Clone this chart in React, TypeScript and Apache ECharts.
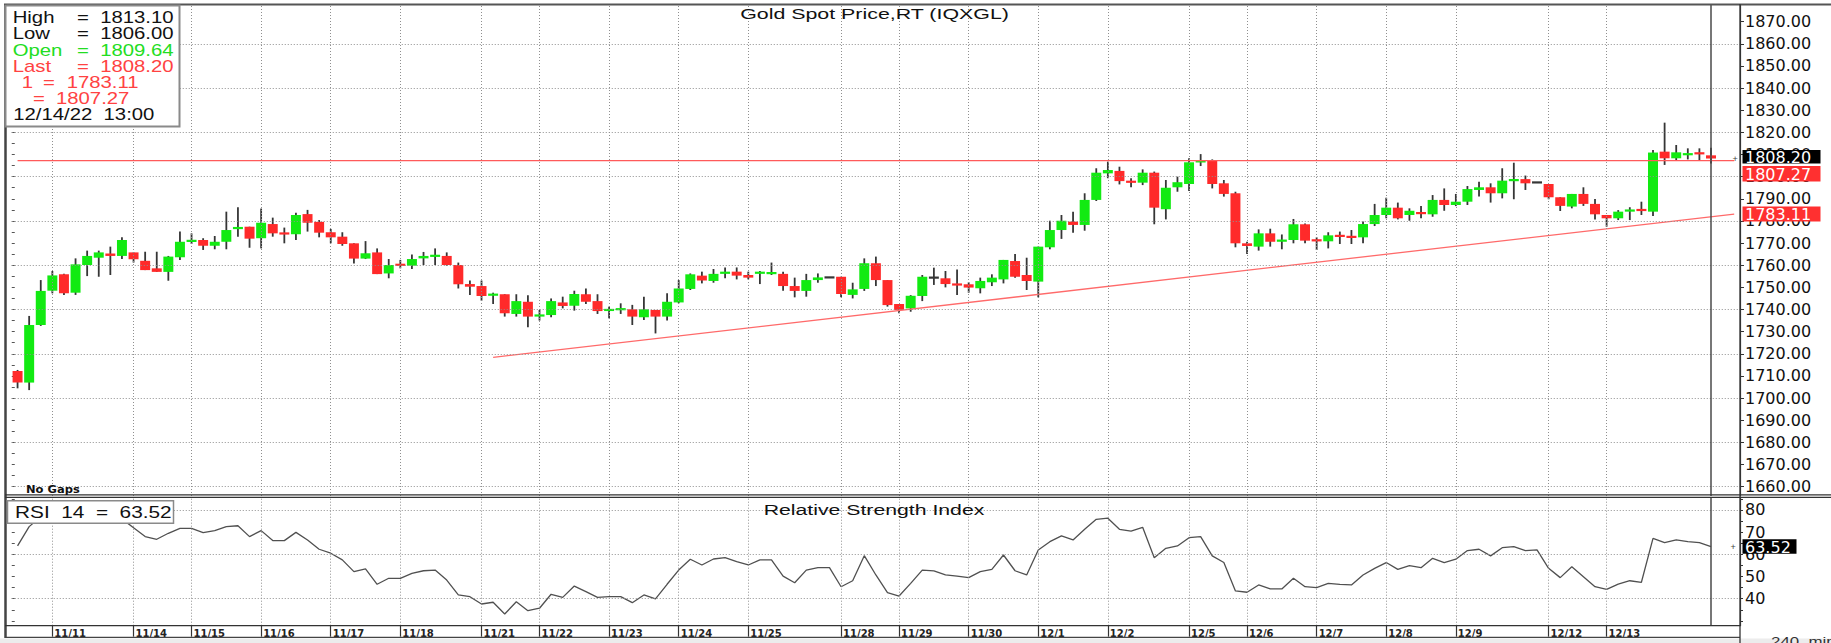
import React, { useEffect, useRef } from 'react';
import * as echarts from 'echarts';

// ---------------- data ----------------
const dayNames = ['11/10', '11/11', '11/14', '11/15', '11/16', '11/17', '11/18', '11/21', '11/22', '11/23', '11/24', '11/25',
  '11/28', '11/29', '11/30', '12/1', '12/2', '12/5', '12/6', '12/7', '12/8', '12/9', '12/12', '12/13'];
const barsPerDay = [3, 7, 5, 6, 6, 6, 7, 5, 6, 6, 6, 8, 5, 6, 6, 6, 7, 5, 6, 6, 6, 8, 5, 10];
const padBars = 2;

const opens = [
  1712.2, 1707.0, 1733.0, 1748.5, 1755.9, 1747.6, 1760.1, 1763.4, 1765.3, 1764.2,
  1765.8, 1762.0, 1758.6, 1757.0, 1763.6, 1770.6, 1771.4, 1768.8, 1770.6, 1776.5,
  1777.4, 1772.2, 1778.6, 1774.7, 1774.0, 1783.1, 1779.6, 1774.9, 1772.9, 1769.9,
  1763.0, 1765.8, 1756.3, 1760.6, 1759.8, 1763.1, 1763.9, 1764.2, 1760.1, 1751.5,
  1750.6, 1746.4, 1746.9, 1738.0, 1743.5, 1736.8, 1737.5, 1743.2, 1741.7, 1746.9,
  1743.8, 1739.5, 1739.8, 1740.1, 1736.5, 1739.8, 1736.8, 1743.2, 1749.3, 1755.3,
  1752.9, 1756.1, 1757.1, 1755.6, 1756.3, 1756.1, 1756.1, 1750.6, 1748.4, 1753.3,
  1754.5, 1754.8, 1746.6, 1749.3, 1760.9, 1753.3, 1742.5, 1740.5, 1746.1, 1754.4,
  1754.1, 1751.7, 1751.4, 1749.6, 1752.3, 1753.6, 1761.9, 1755.6, 1752.6, 1768.1,
  1775.9, 1779.7, 1778.2, 1789.5, 1801.5, 1802.6, 1798.0, 1797.3, 1801.8, 1785.3,
  1795.2, 1796.7, 1806.6, 1807.5, 1797.0, 1792.5, 1769.9, 1768.4, 1774.4, 1770.8,
  1771.4, 1778.5, 1771.7, 1770.8, 1773.6, 1773.2, 1772.6, 1778.6, 1782.7, 1786.0,
  1782.7, 1783.9, 1783.0, 1789.5, 1787.2, 1788.7, 1794.0, 1795.2, 1792.5, 1798.1,
  1798.9, 1797.4, 1796.7, 1790.7, 1786.5, 1792.2, 1787.7, 1782.7, 1781.2, 1784.2,
  1785.4, 1784.2, 1811.3, 1808.3, 1809.8, 1811.0, 1809.64,
];
const closes = [
  1707.0, 1733.0, 1748.4, 1755.4, 1747.3, 1760.4, 1764.2, 1765.8, 1764.2, 1771.4,
  1762.7, 1757.8, 1757.0, 1763.9, 1770.6, 1771.4, 1768.8, 1770.6, 1775.9, 1777.1,
  1772.0, 1779.2, 1774.4, 1774.0, 1782.7, 1779.2, 1774.7, 1772.6, 1769.6, 1763.0,
  1765.4, 1756.0, 1760.1, 1759.8, 1762.8, 1764.2, 1764.6, 1760.1, 1751.4, 1750.3,
  1746.1, 1747.0, 1738.3, 1743.8, 1736.8, 1737.8, 1743.8, 1741.6, 1747.0, 1743.5,
  1739.3, 1740.1, 1740.5, 1736.8, 1740.1, 1736.8, 1743.5, 1749.5, 1755.9, 1753.1,
  1756.1, 1757.1, 1755.3, 1754.4, 1756.9, 1756.8, 1750.6, 1748.4, 1753.3, 1754.5,
  1754.5, 1747.0, 1749.1, 1760.9, 1753.3, 1742.0, 1739.8, 1746.2, 1754.8, 1754.4,
  1751.5, 1750.9, 1749.9, 1752.9, 1754.4, 1762.4, 1754.8, 1752.9, 1768.4, 1775.9,
  1780.1, 1778.2, 1789.5, 1801.8, 1803.0, 1798.0, 1797.4, 1801.8, 1786.0, 1795.0,
  1797.5, 1806.5, 1807.2, 1796.7, 1792.2, 1769.9, 1768.7, 1774.4, 1770.6, 1771.4,
  1778.5, 1771.1, 1770.8, 1773.5, 1772.9, 1772.4, 1778.6, 1782.7, 1786.0, 1781.2,
  1784.6, 1783.2, 1789.5, 1787.2, 1788.7, 1794.4, 1795.2, 1792.5, 1798.2, 1798.8,
  1797.0, 1797.4, 1790.7, 1786.8, 1792.2, 1787.7, 1783.0, 1781.2, 1784.2, 1785.2,
  1784.5, 1810.9, 1808.3, 1811.0, 1810.5, 1810.1, 1808.20,
];
const lows = [
  1704.4, 1703.6, 1732.6, 1747.3, 1746.6, 1746.6, 1755.1, 1754.8, 1755.6, 1762.8,
  1761.2, 1757.8, 1757.0, 1753.0, 1762.4, 1769.6, 1766.9, 1767.2, 1767.2, 1772.9,
  1767.9, 1767.6, 1772.9, 1769.9, 1771.4, 1775.2, 1772.6, 1769.9, 1768.8, 1760.8,
  1762.8, 1756.0, 1754.1, 1758.6, 1758.3, 1760.1, 1760.1, 1759.8, 1749.5, 1746.6,
  1744.0, 1742.5, 1736.8, 1736.8, 1732.0, 1735.0, 1736.5, 1740.5, 1739.5, 1742.5,
  1738.0, 1736.0, 1738.0, 1733.0, 1735.3, 1729.2, 1735.0, 1742.8, 1748.8, 1751.8,
  1752.1, 1754.1, 1753.6, 1753.6, 1751.5, 1755.6, 1748.5, 1745.5, 1745.8, 1752.1,
  1754.4, 1745.5, 1745.0, 1748.4, 1750.6, 1741.3, 1738.3, 1739.0, 1743.8, 1751.1,
  1750.0, 1746.5, 1747.6, 1747.3, 1750.6, 1751.8, 1754.4, 1748.8, 1745.5, 1767.2,
  1771.9, 1774.7, 1775.6, 1789.0, 1799.3, 1796.5, 1795.2, 1796.2, 1778.5, 1780.7,
  1793.2, 1793.5, 1804.8, 1794.7, 1791.0, 1768.1, 1765.1, 1766.6, 1768.4, 1767.2,
  1769.9, 1769.9, 1766.9, 1767.6, 1769.6, 1769.6, 1769.9, 1777.7, 1781.2, 1780.7,
  1780.1, 1781.2, 1781.9, 1784.6, 1786.7, 1787.2, 1791.0, 1788.3, 1790.2, 1789.8,
  1794.0, 1797.3, 1789.8, 1784.5, 1785.7, 1786.8, 1780.7, 1777.4, 1780.4, 1780.4,
  1782.7, 1782.2, 1805.3, 1807.5, 1807.8, 1807.5, 1806.00,
];
const highs = [
  1712.7, 1737.1, 1753.3, 1757.4, 1756.2, 1763.1, 1766.6, 1766.6, 1768.4, 1772.6,
  1765.8, 1766.1, 1766.1, 1764.2, 1775.2, 1774.4, 1772.2, 1773.2, 1784.2, 1786.2,
  1777.4, 1785.6, 1781.5, 1777.0, 1783.7, 1785.0, 1780.4, 1776.4, 1774.9, 1769.9,
  1770.9, 1767.6, 1762.8, 1762.4, 1764.9, 1766.0, 1767.6, 1765.8, 1761.2, 1753.1,
  1753.1, 1747.6, 1746.9, 1746.9, 1746.4, 1739.8, 1745.0, 1745.8, 1748.5, 1749.5,
  1746.9, 1741.3, 1742.8, 1742.1, 1745.8, 1739.8, 1747.3, 1753.3, 1756.3, 1757.1,
  1758.3, 1759.0, 1759.0, 1757.1, 1757.4, 1761.2, 1757.1, 1754.4, 1756.1, 1756.3,
  1754.6, 1754.8, 1752.1, 1763.1, 1763.9, 1753.3, 1742.5, 1746.5, 1755.6, 1758.9,
  1757.4, 1758.1, 1752.3, 1754.4, 1755.9, 1762.4, 1765.1, 1763.4, 1768.4, 1780.1,
  1782.7, 1784.2, 1792.5, 1803.8, 1806.8, 1804.5, 1799.3, 1803.3, 1802.3, 1798.5,
  1800.0, 1808.3, 1810.2, 1807.8, 1798.5, 1793.2, 1770.6, 1776.2, 1776.5, 1773.9,
  1780.9, 1778.9, 1772.6, 1774.9, 1775.2, 1775.9, 1779.7, 1787.7, 1790.5, 1788.3,
  1785.7, 1786.7, 1791.7, 1794.7, 1792.2, 1795.8, 1797.7, 1797.0, 1803.8, 1806.3,
  1800.5, 1797.6, 1796.7, 1790.7, 1792.2, 1795.2, 1789.9, 1782.7, 1784.9, 1786.2,
  1788.7, 1812.0, 1824.4, 1814.3, 1812.8, 1812.8, 1813.10,
];
const rsi = [
  63.8, 72.5, 77, 79, 76, 78, 80, 80.5, 79, 76,
  72, 68.0, 66.8, 69.5, 71.7, 71.7, 69.8, 70.7, 72.5, 72.9,
  68.0, 70.7, 66.2, 66.2, 69.9, 66.5, 62.3, 60.5, 57.5, 52.2,
  53.4, 46.5, 49.2, 49.2, 51.4, 52.6, 52.9, 48.4, 41.7, 40.9,
  37.6, 38.4, 33.1, 38.6, 34.6, 35.7, 42.0, 40.6, 45.7, 43.2,
  40.6, 40.9, 40.9, 38.2, 41.7, 39.9, 46.5, 52.9, 57.8, 55.2,
  57.9, 58.5, 56.7, 55.2, 57.5, 57.5, 50.2, 47.2, 52.9, 54.0,
  54.0, 45.4, 48.1, 59.4, 50.7, 42.7, 41.2, 46.9, 52.9, 52.5,
  50.7, 50.2, 49.5, 52.2, 53.2, 59.7, 52.6, 50.7, 62.0, 65.7,
  68.3, 66.5, 71.3, 75.8, 76.3, 71.3, 70.5, 72.2, 58.5, 62.7,
  63.8, 67.5, 68.0, 59.3, 56.3, 43.5, 42.9, 46.2, 44.4, 44.4,
  49.2, 45.4, 45.0, 46.9, 46.5, 46.2, 50.7, 53.7, 56.3, 53.2,
  54.9, 54.0, 58.2, 56.3, 57.8, 61.7, 62.3, 59.3, 63.0, 63.5,
  61.7, 62.0, 53.7, 49.5, 54.4, 49.9, 45.4, 44.2, 46.6, 48.1,
  47.4, 67.2, 65.3, 66.5, 65.7, 65.3, 63.52,
];

const priceLabels = [1660, 1670, 1680, 1690, 1700, 1710, 1720, 1730, 1740, 1750, 1760, 1770, 1780, 1790, 1800, 1810, 1820, 1830, 1840, 1850, 1860, 1870];
const priceGridValues = [1660, 1680, 1700, 1720, 1740, 1760, 1780, 1800, 1820, 1840, 1860];
const priceMinorTicks = [1660, 1665, 1670, 1675, 1680, 1685, 1690, 1695, 1700, 1705, 1710, 1715, 1720, 1725, 1730, 1735, 1740, 1745, 1750, 1755, 1760, 1765, 1770, 1775, 1780, 1785, 1790, 1795, 1800, 1805, 1810, 1815, 1820, 1825, 1830, 1835, 1840, 1845, 1850, 1855, 1860, 1865, 1870, 1875];
const rsiLabels = [40, 50, 60, 70, 80];
const rsiGridValues = [40, 60, 80];
const rsiMinorTicks = [30, 35, 40, 45, 50, 55, 60, 65, 70, 75, 80, 85];

const horizLevel = 1807.27;
const trendLine = [[41, 1718.4], [148, 1783.11]];
const lastPrice = 1808.2;
const lastRsi = 63.52;
const cursorIndex = 146;

// ---------------- layout ----------------
const W = 1831;
const H = 643;
const GRID_LEFT = 11.76;
const AXIS_X = 1740;
const P_MIN = 1655.77;
const P_MAX = 1877.54;
const R_MIN = 27.82;
const R_MAX = 85.41;

const GREEN = '#12ea12';
const RED = '#ff2a2a';
const WICK = '#363636';
const GRIDC = '#8f8f8f';
const TXT_GREEN = '#22dd22';
const TXT_RED = '#ff4242';
const AFONT = '"DejaVu Sans", sans-serif';
const SFONT = '"Liberation Sans", Arial, sans-serif';

export default function App() {
  const ref = useRef<HTMLDivElement>(null);

  useEffect(() => {
    const el = ref.current;
    if (!el) return;
    const chart = echarts.init(el, null, { renderer: 'svg' });

    const categories: string[] = [];
    const dayStarts: number[] = [];
    dayNames.forEach((d, di) => {
      if (di > 0) dayStarts.push(categories.length);
      for (let k = 0; k < barsPerDay[di]; k++) categories.push(`${d} #${k + 1}`);
    });
    for (let k = 0; k < padBars; k++) categories.push(`pad #${k + 1}`);
    const startSet = new Set(dayStarts);

    const candleData = opens.map((o, i) => [i, o, closes[i], lows[i], highs[i]]);
    const rsiData = rsi.map((v, i) => [i, v]);

    const dotted = { color: GRIDC, type: [1, 2] as any, width: 1 };

    const option: any = {
      animation: false,
      backgroundColor: '#ffffff',
      grid: [
        { left: GRID_LEFT, top: 5, width: AXIS_X - GRID_LEFT, height: 491, show: false, containLabel: false, outerBoundsMode: 'none' },
        { left: GRID_LEFT, top: 498, width: AXIS_X - GRID_LEFT, height: 127.7, show: false, containLabel: false, outerBoundsMode: 'none' },
      ],
      xAxis: [
        {
          type: 'category', gridIndex: 0, data: categories, boundaryGap: true,
          axisLine: { show: false }, axisTick: { show: false }, axisLabel: { show: false }, splitLine: { show: false },
        },
        {
          type: 'category', gridIndex: 1, data: categories, boundaryGap: true,
          axisLine: { show: false },
          axisTick: {
            show: true, alignWithLabel: true, length: 11,
            interval: (i: number) => startSet.has(i),
            lineStyle: { color: '#333', width: 1.2 },
          },
          axisLabel: {
            show: true, interval: (i: number) => startSet.has(i),
            formatter: (v: string) => v.split(' ')[0],
            align: 'left', margin: 3, padding: [0, 0, 0, 2],
            fontFamily: AFONT, fontWeight: 'bold', fontSize: 10, color: '#222',
            showMinLabel: true, showMaxLabel: true, hideOverlap: false,
          },
          splitLine: { show: false },
        },
      ],
      yAxis: [
        {
          type: 'value', gridIndex: 0, position: 'right', min: P_MIN, max: P_MAX,
          axisLine: { show: true, lineStyle: { color: '#333', width: 1.2 } },
          axisTick: { show: true, customValues: priceLabels, length: 4, lineStyle: { color: '#333' } },
          axisLabel: {
            show: true, customValues: priceLabels, formatter: (v: number) => v.toFixed(2),
            margin: 5, fontFamily: AFONT, fontSize: 16, color: '#111',
          },
          splitLine: { show: false },
        },
        {
          type: 'value', gridIndex: 0, position: 'left', min: P_MIN, max: P_MAX,
          axisLine: { show: false },
          axisTick: { show: true, inside: true, customValues: priceMinorTicks, length: 3, lineStyle: { color: '#555' } },
          axisLabel: { show: false }, splitLine: { show: false },
        },
        {
          type: 'value', gridIndex: 1, position: 'right', min: R_MIN, max: R_MAX,
          axisLine: { show: true, lineStyle: { color: '#333', width: 1.2 } },
          axisTick: { show: true, customValues: rsiMinorTicks, length: 3, lineStyle: { color: '#333' } },
          axisLabel: {
            show: true, customValues: rsiLabels, formatter: (v: number) => String(v),
            margin: 5, fontFamily: AFONT, fontSize: 16, color: '#111',
          },
          splitLine: { show: false },
        },
        {
          type: 'value', gridIndex: 1, position: 'left', min: R_MIN, max: R_MAX,
          axisLine: { show: false },
          axisTick: { show: true, inside: true, customValues: rsiMinorTicks, length: 3, lineStyle: { color: '#555' } },
          axisLabel: { show: false }, splitLine: { show: false },
        },
      ],
      series: [
        {
          name: 'level2', type: 'line', xAxisIndex: 0, yAxisIndex: 0,
          data: [[0, horizLevel], [148, horizLevel]],
          symbol: 'none', silent: true,
          lineStyle: { color: '#ff5a5a', width: 1.2 },
          markLine: {
            silent: true, symbol: ['none', 'none'], label: { show: false }, animation: false,
            lineStyle: dotted,
            data: [
              ...dayStarts.map((i) => ({ xAxis: i })),
              ...priceGridValues.map((v) => ({ yAxis: v })),
              { xAxis: cursorIndex, lineStyle: { color: '#4a4a4a', type: 'solid', width: 1.5 } },
            ],
          },
        },
        {
          name: 'trend1', type: 'line', xAxisIndex: 0, yAxisIndex: 0,
          data: trendLine, symbol: 'none', silent: true,
          lineStyle: { color: '#ff6a6a', width: 1.3 },
        },
        {
          name: 'Gold', type: 'custom', xAxisIndex: 0, yAxisIndex: 0,
          data: candleData, encode: { x: 0, y: [1, 2, 3, 4] }, clip: true,
          renderItem: (params: any, api: any) => {
            const i = api.value(0);
            const o = api.value(1), c = api.value(2), l = api.value(3), h = api.value(4);
            const pO = api.coord([i, o]);
            const pC = api.coord([i, c]);
            const pL = api.coord([i, l]);
            const pH = api.coord([i, h]);
            const band = api.size([1, 0])[0];
            const bw = band * 0.86;
            let top = Math.min(pO[1], pC[1]);
            let ht = Math.abs(pO[1] - pC[1]);
            if (ht < 2.2) { top = (pO[1] + pC[1]) / 2 - 1.1; ht = 2.2; }
            const fill = c > o ? GREEN : c < o ? RED : WICK;
            return {
              type: 'group',
              children: [
                { type: 'line', shape: { x1: pH[0], y1: pH[1], x2: pL[0], y2: pL[1] }, style: { stroke: WICK, lineWidth: 1.8 } },
                { type: 'rect', shape: { x: pO[0] - bw / 2, y: top, width: bw, height: ht }, style: { fill } },
              ],
            };
          },
        },
        {
          name: 'RSI', type: 'line', xAxisIndex: 1, yAxisIndex: 2,
          data: rsiData, symbol: 'none', silent: true,
          lineStyle: { color: '#505050', width: 1.3 },
          markLine: {
            silent: true, symbol: ['none', 'none'], label: { show: false }, animation: false,
            lineStyle: dotted,
            data: [
              ...dayStarts.map((i) => ({ xAxis: i })),
              ...rsiGridValues.map((v) => ({ yAxis: v })),
              { xAxis: cursorIndex, lineStyle: { color: '#4a4a4a', type: 'solid', width: 1.5 } },
            ],
          },
        },
      ],
    };

    chart.setOption(option);

    const py = (v: number) => chart.convertToPixel({ yAxisIndex: 0 } as any, v) as unknown as number;
    const ry = (v: number) => chart.convertToPixel({ yAxisIndex: 2 } as any, v) as unknown as number;

    const txt = (text: string, x: number, y: number, o: any = {}) => ({
      type: 'text', x, y, scaleX: o.sx ?? 1.27, z: 120,
      style: {
        text, fill: o.color ?? '#111',
        font: `${o.weight ?? 'normal'} ${o.size ?? 16}px ${o.family ?? SFONT}`,
        align: o.align ?? 'left', verticalAlign: 'middle',
      },
    });
    const line = (x1: number, y1: number, x2: number, y2: number, stroke: string, lw: number) => ({
      type: 'line', z: 110, shape: { x1, y1, x2, y2 }, style: { stroke, lineWidth: lw },
    });
    const badge = (text: string, yc: number, w: number, h: number, bg: string) => ([
      { type: 'rect', z: 115, shape: { x: AXIS_X + 2.5, y: yc - h / 2, width: w, height: h }, style: { fill: bg } },
      { type: 'text', z: 116, x: AXIS_X + 5, y: yc + 0.5, style: { text, fill: '#ffffff', font: `16px ${AFONT}`, align: 'left', verticalAlign: 'middle' } },
    ]);

    const lineYs = [17.5, 33.8, 50.1, 66.4, 82.5, 98.6, 114.8];
    const elements: any[] = [
      { type: 'rect', z: 100, shape: { x: 0, y: 638.5, width: W, height: 5 }, style: { fill: '#ececec' } },
      line(4, 4.5, W, 4.5, '#555', 2),
      line(5.5, 4, 5.5, 638, '#444', 2.5),
      line(5, 494.8, W, 494.8, '#333', 1.3),
      line(5, 497.4, W, 497.4, '#333', 1.2),
      line(5, 625.7, AXIS_X, 625.7, '#333', 1.2),
      line(5, 637.3, AXIS_X, 637.3, '#444', 1.2),
      line(AXIS_X, 4, AXIS_X, H, '#333', 1.3),
      // info box
      { type: 'rect', z: 118, shape: { x: 5.5, y: 5.5, width: 174, height: 121 }, style: { fill: '#ffffff', stroke: '#8a8a8a', lineWidth: 2 } },
      txt('High', 12.7, lineYs[0]), txt('=', 77, lineYs[0]), txt('1813.10', 173.5, lineYs[0], { align: 'right' }),
      txt('Low', 12.7, lineYs[1]), txt('=', 77, lineYs[1]), txt('1806.00', 173.5, lineYs[1], { align: 'right' }),
      txt('Open', 12.7, lineYs[2], { color: TXT_GREEN }), txt('=', 77, lineYs[2], { color: TXT_GREEN }), txt('1809.64', 173.5, lineYs[2], { align: 'right', color: TXT_GREEN }),
      txt('Last', 12.7, lineYs[3], { color: TXT_RED }), txt('=', 77, lineYs[3], { color: TXT_RED }), txt('1808.20', 173.5, lineYs[3], { align: 'right', color: TXT_RED }),
      txt('1', 21.7, lineYs[4], { color: TXT_RED }), txt('=', 43, lineYs[4], { color: TXT_RED }), txt('1783.11', 66.7, lineYs[4], { color: TXT_RED }),
      txt('=', 33, lineYs[5], { color: TXT_RED }), txt('1807.27', 56, lineYs[5], { color: TXT_RED }),
      txt('12/14/22  13:00', 13.3, lineYs[6]),
      // titles
      txt('Gold Spot Price,RT (IQXGL)', 874.5, 14, { align: 'center', sx: 1.38, size: 15.5 }),
      txt('Relative Strength Index', 874, 509.5, { align: 'center', sx: 1.37, size: 15.5 }),
      txt('No Gaps', 26, 489.5, { size: 10, weight: 'bold', family: AFONT, sx: 1.15 }),
      // RSI box
      { type: 'rect', z: 118, shape: { x: 7.5, y: 500.7, width: 166, height: 22.6 }, style: { fill: '#ffffff', stroke: '#8a8a8a', lineWidth: 1.5 } },
      txt('RSI  14  =  63.52', 15, 512.5, { sx: 1.3 }),
      // badges
      ...badge('1808.20', py(lastPrice) - 1.8, 78, 13.5, '#000000'),
      ...badge('1807.27', py(horizLevel) + 13.2, 78, 15.5, '#ff3030'),
      ...badge('1783.11', py(trendLine[1][1]), 78, 15, '#ff3030'),
      ...badge('63.52', ry(lastRsi), 54, 14.5, '#000000'),
      txt('+', 1735, py(lastPrice), { size: 9, color: '#444', sx: 1, align: 'center' }),
      txt('+', 1733, ry(lastRsi), { size: 9, color: '#444', sx: 1, align: 'center' }),
      txt('240  min', 1771, 641, { size: 13, color: '#333', sx: 1.3 }),
    ];

    chart.setOption({ graphic: { elements } });

    return () => {
      chart.dispose();
    };
  }, []);

  return (
    <div
      ref={ref}
      style={{ position: 'absolute', left: 0, top: 0, width: W, height: H, background: '#ffffff' }}
    />
  );
}
